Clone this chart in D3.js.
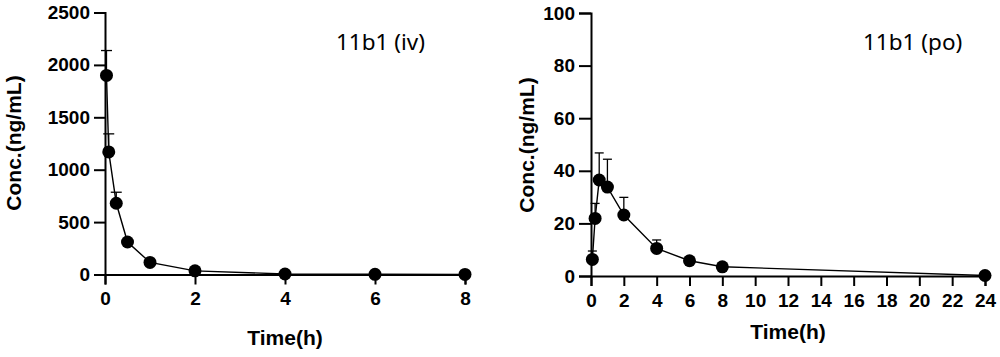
<!DOCTYPE html>
<html><head><meta charset="utf-8">
<script src="https://cdn.jsdelivr.net/npm/d3@7"></script>
<style>
body{margin:0;background:#fff;}
svg{display:block;}
.tick text{font-family:"Liberation Sans",Arial,sans-serif;font-weight:bold;font-size:19px;fill:#000;}
.axtitle{font-family:"Liberation Sans",Arial,sans-serif;font-weight:bold;font-size:21px;fill:#000;}
.ptitle{font-family:"Noto Sans",sans-serif;font-size:22.5px;fill:#000;}
</style></head>
<body>
<script>
// IV panel data
const ivTimes = [0.033, 0.083, 0.25, 0.5, 1, 2, 4, 6, 8];
const ivMean  = [1900, 1170, 680, 310, 115, 35, 5, 2, 1];
const ivSD    = [237, 172, 105, 20, 10, 5, 1, 0.5, 0.3];
const ivXTicks = [0, 2, 4, 6, 8];
const ivYTicks = [0, 500, 1000, 1500, 2000, 2500];

// PO panel data
const poTimes = [0.083, 0.25, 0.5, 1, 2, 4, 6, 8, 24];
const poMean  = [6.3, 21.9, 36.5, 33.8, 23.2, 10.5, 5.8, 3.5, 0.2];
const poSD    = [3.2, 5.7, 10.3, 10.6, 6.7, 3.2, 0.8, 0.5, 0.1];
const poXTicks = [0, 2, 4, 6, 8, 10, 12, 14, 16, 18, 20, 22, 24];
const poYTicks = [0, 20, 40, 60, 80, 100];

const svg = d3.select("body").append("svg").attr("width",1000).attr("height",357);
svg.append("rect").attr("width",1000).attr("height",357).attr("fill","#fff");

function panel(cfg){
  const g = svg.append("g");
  const x = d3.scaleLinear().domain(cfg.xDomain).range(cfg.xRange);
  const y = d3.scaleLinear().domain(cfg.yDomain).range(cfg.yRange);
  const data = cfg.times.map((t,i)=>({t, m:cfg.mean[i], sd:cfg.sd[i]}));

  // error bars (upper only)
  const eb = g.append("g").attr("stroke","#000").attr("stroke-width",1.3).attr("fill","none");
  data.forEach(d=>{
    eb.append("line").attr("x1",x(d.t)).attr("x2",x(d.t)).attr("y1",y(d.m)).attr("y2",y(d.m+d.sd));
    eb.append("line").attr("x1",x(d.t)-cfg.cap).attr("x2",x(d.t)+cfg.cap).attr("y1",y(d.m+d.sd)).attr("y2",y(d.m+d.sd));
  });

  // axes
  const xa = g.append("g").attr("transform",`translate(0,${cfg.yRange[0]})`)
    .call(d3.axisBottom(x).tickValues(cfg.xTicks).tickSizeOuter(0).tickSize(10).tickPadding(5).tickFormat(d3.format("d")));
  const ya = g.append("g").attr("transform",`translate(${cfg.xRange[0]},0)`)
    .call(d3.axisLeft(y).tickValues(cfg.yTicks).tickSizeOuter(0).tickSize(cfg.ytick).tickPadding(4).tickFormat(d3.format("d")));
  [xa,ya].forEach(a=>{a.selectAll("path,line").attr("stroke","#000").attr("stroke-width",2);});
  xa.selectAll(".tick text").attr("dy","0.82em");

  // line
  g.append("path").datum(data)
    .attr("d", d3.line().x(d=>x(d.t)).y(d=>y(d.m)))
    .attr("fill","none").attr("stroke","#000").attr("stroke-width",1.4);
  // dots
  g.selectAll("circle.pt").data(data).join("circle")
    .attr("cx",d=>x(d.t)).attr("cy",d=>y(d.m)).attr("r",6.5).attr("fill","#000");

  // titles
  g.append("text").attr("class","axtitle").attr("text-anchor","middle")
    .attr("x",(cfg.xRange[0]+cfg.xRange[1])/2).attr("y",cfg.xTitleY).text("Time(h)");
  g.append("text").attr("class","axtitle").attr("text-anchor","middle")
    .attr("transform",`translate(${cfg.yTitleX},${cfg.yTitleY}) rotate(-90)`).text("Conc.(ng/mL)");
  g.append("text").attr("class","ptitle").attr("x",cfg.titleX).attr("y",50).text(cfg.title);
}

panel({times:ivTimes, mean:ivMean, sd:ivSD, xTicks:ivXTicks, yTicks:ivYTicks,
  xDomain:[0,8], xRange:[105,465], yDomain:[0,2500], yRange:[274.5,12.5],
  cap:5.5, ytick:11, xTitleY:345, yTitleX:21, yTitleY:143, titleX:336, title:"11b1 (iv)"});
panel({times:poTimes, mean:poMean, sd:poSD, xTicks:poXTicks, yTicks:poYTicks,
  xDomain:[0,24], xRange:[591,985], yDomain:[0,100], yRange:[276,13],
  cap:4.5, ytick:12, xTitleY:339, yTitleX:534, yTitleY:145, titleX:863, title:"11b1 (po)"});
</script>
</body></html>
